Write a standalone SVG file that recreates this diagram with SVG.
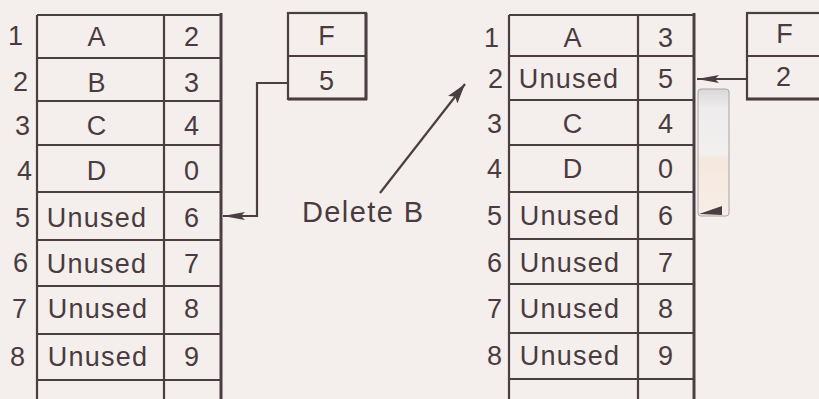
<svg xmlns="http://www.w3.org/2000/svg" width="819" height="399" viewBox="0 0 819 399">
<style>
.ln{stroke:#4b3e42;stroke-width:2.2;fill:none}
.thk{stroke:#4b3e42;stroke-width:3;fill:none}
.t{font-family:"Liberation Sans",Arial,sans-serif;font-size:27px;letter-spacing:1.2px;fill:#4a3b3f;text-anchor:middle}
.n{font-family:"Liberation Sans",Arial,sans-serif;font-size:27px;fill:#4a3b3f;text-anchor:end}
.lbl{font-family:"Liberation Sans",Arial,sans-serif;font-size:29px;letter-spacing:1.4px;fill:#4a3b3f}
.cn{stroke:#4b3e42;stroke-width:2.2;fill:none}
</style>
<defs>
<marker id="ah" markerUnits="userSpaceOnUse" markerWidth="22" markerHeight="9" refX="22" refY="4.5" orient="auto">
<path d="M0,0.5 L22,4.5 L0,8.5 L4,4.5 z" fill="#4b3e42"/>
</marker>
<marker id="ah2" markerUnits="userSpaceOnUse" markerWidth="20" markerHeight="12" refX="20" refY="6" orient="auto">
<path d="M0,0 L20,6 L0,12 L4,6 z" fill="#4b3e42"/>
</marker>
<linearGradient id="patch" x1="0" y1="0" x2="0" y2="1">
<stop offset="0" stop-color="#dad7d8"/>
<stop offset="0.15" stop-color="#eeecec"/>
<stop offset="0.5" stop-color="#f2f0ef"/>
<stop offset="0.56" stop-color="#f5e8de"/>
<stop offset="1" stop-color="#f7eee7"/>
</linearGradient>
</defs>
<rect width="819" height="399" fill="#f4efec"/>

<g id="table-left">
<path class="ln" d="M37,15 V399 M164,15 V399 M37,15 H221 M37,58 H221 M37,101 H221 M37,145 H221 M37,192 H221 M37,240 H221 M37,286 H221 M37,334 H221 M37,380 H221"/>
<path class="thk" d="M221,13 V399"/>
<text class="n" x="23" y="45">1</text>
<text class="n" x="28" y="91">2</text>
<text class="n" x="30" y="135">3</text>
<text class="n" x="32" y="180">4</text>
<text class="n" x="30" y="227">5</text>
<text class="n" x="28" y="272">6</text>
<text class="n" x="27" y="318">7</text>
<text class="n" x="25" y="366">8</text>
<text class="t" x="97" y="46">A</text>
<text class="t" x="97" y="92">B</text>
<text class="t" x="97" y="135">C</text>
<text class="t" x="97" y="180">D</text>
<text class="t" x="97" y="227">Unused</text>
<text class="t" x="97" y="273">Unused</text>
<text class="t" x="98" y="318">Unused</text>
<text class="t" x="98" y="366">Unused</text>
<text class="t" x="192" y="46">2</text>
<text class="t" x="192" y="92">3</text>
<text class="t" x="192" y="135">4</text>
<text class="t" x="192" y="180">0</text>
<text class="t" x="192" y="227">6</text>
<text class="t" x="192" y="273">7</text>
<text class="t" x="192" y="318">8</text>
<text class="t" x="192" y="366">9</text>
</g>

<g id="free-left">
<rect class="ln" x="288" y="13" width="78" height="86"/>
<path class="ln" d="M288,56 H366"/>
<path class="thk" d="M366,13 V100 M288,99 H367"/>
<text class="t" x="327" y="45">F</text>
<text class="t" x="327" y="90">5</text>
</g>

<g id="label-delete">
<text class="lbl" x="302" y="222">Delete B</text>
</g>

<g id="table-right">
<path class="ln" d="M509,15 V399 M638,15 V399 M509,15 H694 M509,56 H694 M509,100 H694 M509,145 H694 M509,192 H694 M509,239 H694 M509,284 H694 M509,333 H694 M509,379 H694"/>
<path class="thk" d="M694,13 V399"/>
<text class="n" x="499" y="47">1</text>
<text class="n" x="503" y="88">2</text>
<text class="n" x="502" y="133">3</text>
<text class="n" x="502" y="178">4</text>
<text class="n" x="502" y="225">5</text>
<text class="n" x="502" y="272">6</text>
<text class="n" x="502" y="318">7</text>
<text class="n" x="502" y="365">8</text>
<text class="t" x="573" y="47">A</text>
<text class="t" x="569" y="88">Unused</text>
<text class="t" x="573" y="133">C</text>
<text class="t" x="573" y="178">D</text>
<text class="t" x="570" y="225">Unused</text>
<text class="t" x="570" y="272">Unused</text>
<text class="t" x="570" y="318">Unused</text>
<text class="t" x="570" y="365">Unused</text>
<text class="t" x="666" y="47">3</text>
<text class="t" x="666" y="88">5</text>
<text class="t" x="666" y="133">4</text>
<text class="t" x="666" y="178">0</text>
<text class="t" x="666" y="225">6</text>
<text class="t" x="666" y="272">7</text>
<text class="t" x="666" y="318">8</text>
<text class="t" x="666" y="365">9</text>
</g>

<g id="free-right">
<rect class="ln" x="747" y="13" width="76" height="86"/>
<path class="ln" d="M747,56 H823"/>
<path class="thk" d="M746,99 H823"/>
<text class="t" x="785" y="43">F</text>
<text class="t" x="784" y="86">2</text>
</g>

<g id="patch">
<rect x="698" y="89" width="31" height="127" rx="3" fill="url(#patch)" stroke="#a9a3a4" stroke-width="1"/>
</g>

<g id="connectors">
<path class="cn" d="M288,83 H257 V216 H223" marker-end="url(#ah)"/>
<path class="cn" d="M380,193 L465,84" marker-end="url(#ah2)"/>
<path class="cn" d="M747,79 H697" marker-end="url(#ah)"/>
<polygon points="699,214 722,206 722,215" fill="#4b3e42"/>
</g>
</svg>
